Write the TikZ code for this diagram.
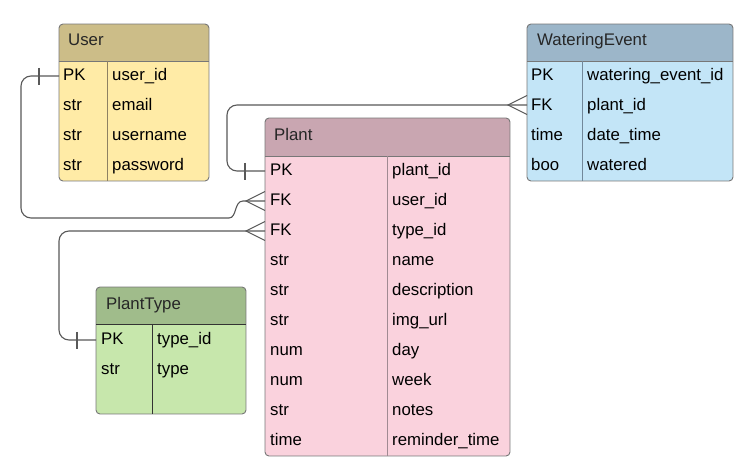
\documentclass[tikz,border=0pt]{standalone}
\usepackage{fontspec}
\setmainfont{Liberation Sans}
\usetikzlibrary{fit,calc}
\definecolor{userhdr}{HTML}{CCBD88}
\definecolor{userbody}{HTML}{FFEBA6}
\definecolor{userdiv}{HTML}{8E8162}
\definecolor{planthdr}{HTML}{C9A6B1}
\definecolor{plantbody}{HTML}{FAD2DD}
\definecolor{plantdiv}{HTML}{A08A92}
\definecolor{wehdr}{HTML}{9CB6C9}
\definecolor{webody}{HTML}{C3E5F7}
\definecolor{wediv}{HTML}{72889A}
\definecolor{pthdr}{HTML}{A0BC8B}
\definecolor{ptbody}{HTML}{C7E7AC}
\definecolor{ptdiv}{HTML}{333333}
\definecolor{bordercol}{HTML}{777777}
\definecolor{linkcol}{HTML}{595959}
\tikzset{
  tablebox/.style={draw=bordercol, line width=0.9pt, rounded corners=4pt, inner sep=0pt},
  fld/.style={anchor=base west, inner sep=0pt, font=\fontsize{16.8}{18}\selectfont, text=black},
  ttl/.style={anchor=base west, inner sep=0pt, font=\fontsize{16.8}{18}\selectfont, text=black!85},
  link/.style={draw=linkcol, line width=1.1pt},
}
% #1 name, #2 x1, #3 y1, #4 x2, #5 header bottom, #6 y2, #7 column x, #8 header colour, #9 body colour
\newcommand{\ertable}[9]{%
  \begin{scope}
    \clip[rounded corners=4pt] (#2,#3) rectangle (#4,#6);
    \fill[#9] (#2,#3) rectangle (#4,#6);
    \fill[#8] (#2,#3) rectangle (#4,#5);
  \end{scope}
  \node[tablebox, fit={(#2,#3) (#4,#6)}] (#1) {};
  \coordinate (#1-hl) at (#2,#5);
  \coordinate (#1-hr) at (#4,#5);
  \coordinate (#1-ct) at (#7,#5);
  \coordinate (#1-cb) at (#7,#6);
}
\begin{document}
\begin{tikzpicture}[x=1pt,y=-1pt]
\useasboundingbox[fill=white] (0,0) rectangle (747,470);

% ---------------- User
\ertable{user}{59}{24}{209}{61}{181}{107}{userhdr}{userbody}
\draw[bordercol, line width=0.9pt] (user-hl) -- (user-hr);
\draw[userdiv, line width=0.9pt] (user-ct) -- (user-cb);
\node[ttl] (user-title) at (68,46) {User};
\foreach \k/\v [count=\i from 0] in {PK/user\_id, str/email, str/username, str/password}{
  \node[fld] (user-k\i) at (63,80.5+30*\i) {\k};
  \node[fld] (user-v\i) at (112,80.5+30*\i) {\v};
}

% ---------------- WateringEvent
\ertable{we}{527}{24}{733}{61}{181}{582}{wehdr}{webody}
\draw[bordercol, line width=0.9pt] (we-hl) -- (we-hr);
\draw[wediv, line width=0.9pt] (we-ct) -- (we-cb);
\node[ttl] (we-title) at (537,46) {WateringEvent};
\foreach \k/\v [count=\i from 0] in {PK/watering\_event\_id, FK/plant\_id, time/date\_time, boo/watered}{
  \node[fld] (we-k\i) at (531,80.5+30*\i) {\k};
  \node[fld] (we-v\i) at (587,80.5+30*\i) {\v};
}

% ---------------- Plant
\ertable{plant}{265}{118}{510}{156}{456}{387}{planthdr}{plantbody}
\draw[bordercol, line width=0.9pt] (plant-hl) -- (plant-hr);
\draw[plantdiv, line width=0.9pt] (plant-ct) -- (plant-cb);
\node[ttl] (plant-title) at (274,141) {Plant};
\foreach \k/\v [count=\i from 0] in {PK/plant\_id, FK/user\_id, FK/type\_id, str/name, str/description, str/img\_url, num/day, num/week, str/notes, time/reminder\_time}{
  \node[fld] (plant-k\i) at (270,175.5+30*\i) {\k};
  \node[fld] (plant-v\i) at (392,175.5+30*\i) {\v};
}

% ---------------- PlantType
\ertable{pt}{96}{287}{246}{324}{414}{152}{pthdr}{ptbody}
\draw[ptdiv, line width=0.9pt] (pt-hl) -- (pt-hr);
\draw[ptdiv, line width=0.9pt] (pt-ct) -- (pt-cb);
\node[ttl] (pt-title) at (106,310) {PlantType};
\foreach \k/\v [count=\i from 0] in {PK/type\_id, str/type}{
  \node[fld] (pt-k\i) at (101,344.5+30*\i) {\k};
  \node[fld] (pt-v\i) at (157,344.5+30*\i) {\v};
}

% ---------------- connector end points
\coordinate (user-pk) at (59,76);
\coordinate (plant-fk1) at (265,201);
\coordinate (plant-fk2) at (265,231);
\coordinate (plant-pk) at (265,171);
\coordinate (we-fk) at (527,105);
\coordinate (pt-pk) at (96,340);

% User.PK -> Plant.user_id
\draw[link, rounded corners=10pt] (user-pk) -- (21,76) -- (21,218) -- (229,218);
\draw[link] (229,218) .. controls (237,218) and (234,201) .. (243,201) -- (plant-fk1);
\draw[link] (39,68) -- (39,85);
\draw[link] ($(plant-fk1)+(0,-9.5)$) -- (246,201) -- ($(plant-fk1)+(0,9.5)$);

% Plant.PK -> WateringEvent.plant_id
\draw[link, rounded corners=10pt] (plant-pk) -- (227,171) -- (227,105) -- (we-fk);
\draw[link] (245,163) -- (245,180);
\draw[link] ($(we-fk)+(0,-9.5)$) -- (508,105) -- ($(we-fk)+(0,9.5)$);

% PlantType.PK -> Plant.type_id
\draw[link, rounded corners=10pt] (pt-pk) -- (59,340) -- (59,231) -- (plant-fk2);
\draw[link] (77,332) -- (77,349);
\draw[link] ($(plant-fk2)+(0,-9.5)$) -- (246,231) -- ($(plant-fk2)+(0,9.5)$);
\end{tikzpicture}
\end{document}
